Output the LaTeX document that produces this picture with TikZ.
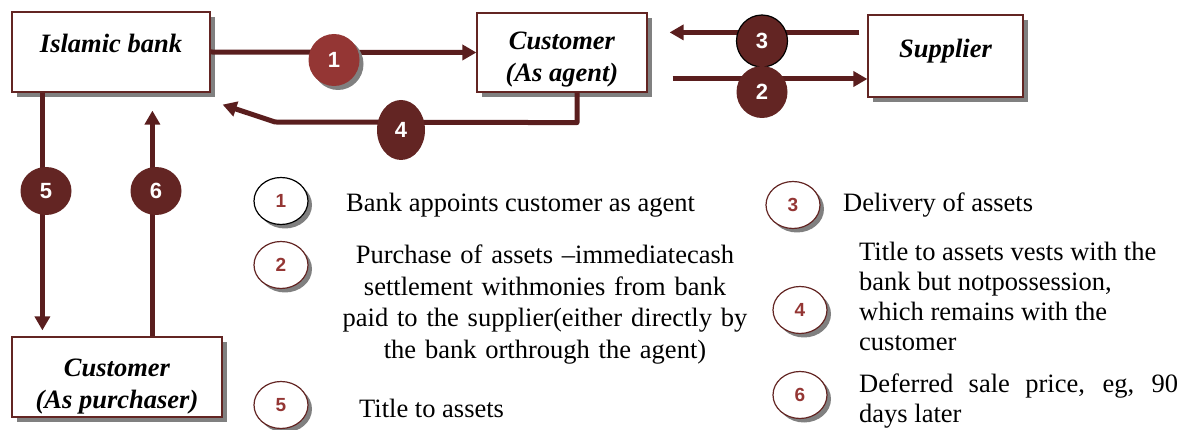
\documentclass[tikz,border=0pt]{standalone}
\usepackage{fontspec}
\setmainfont{Liberation Serif}
\newfontfamily\numfont{Liberation Sans}
\usetikzlibrary{arrows.meta,shapes.geometric,shadows,calc}

\definecolor{flowred}{RGB}{90,30,30}
\definecolor{discred}{RGB}{148,54,52}
\definecolor{darkdisc}{RGB}{99,37,35}
\definecolor{shadowgray}{RGB}{128,128,128}

\tikzset{
  party/.style={draw=darkdisc, line width=1.2pt, fill=white, inner sep=0pt,
    font=\fontsize{26.5}{32}\selectfont\bfseries\itshape, align=center,
    drop shadow={shadow xshift=5pt, shadow yshift=-5pt, fill=shadowgray, opacity=1}},
  flow/.style={draw=flowred, line width=5pt, -{Triangle[length=14pt,width=15pt]}},
  stepdisc/.style={ellipse, fill=darkdisc, inner sep=0pt, text=white,
    font=\numfont\fontsize{22}{22}\selectfont\bfseries,
    minimum width=51pt, minimum height=52pt},
  keydisc/.style={ellipse, draw=darkdisc, line width=1.2pt, fill=white, inner sep=0pt,
    text=discred, font=\numfont\fontsize{19}{19}\selectfont\bfseries,
    minimum width=54pt, minimum height=47pt,
    drop shadow={shadow xshift=4pt, shadow yshift=-4pt, fill=shadowgray, opacity=1}},
  note/.style={font=\fontsize{26.5}{31}\selectfont, inner sep=0pt}
}

\begin{document}
\begin{tikzpicture}[x=1pt, y=-1pt]
  \useasboundingbox (0,0) rectangle (1197,430);

  % parties
  \node[party, minimum width=198pt, minimum height=80pt] (bank) at (111,52) {\raisebox{17pt}{Islamic bank}};
  \node[party, minimum width=170pt, minimum height=79pt] (agent) at (562,52.5) {\rule{0pt}{32pt}Customer\\(As agent)};
  \node[party, minimum width=155pt, minimum height=82pt] (supplier) at (945.5,56) {\raisebox{16pt}{Supplier}};
  \node[party, minimum width=210pt, minimum height=80pt] (buyer) at (117,377) {\rule{0pt}{36pt}Customer\\(As purchaser)};

  % flows
  \coordinate (s3) at ($(supplier.north west)+(-8,18)$);
  \coordinate (h3) at ($(agent.north east)+(22,20)$);
  \coordinate (t2) at ($(agent.east)+(25,26.5)$);
  \coordinate (t4) at ($(agent.south)+(15,0)$);
  \coordinate (k4) at (275,122);
  \coordinate (h4) at ($(bank.south east)+(12,12)$);
  \draw[flow] (bank.east) -- (agent.west);
  \draw[flow] (s3) -- (h3);
  \draw[flow] (t2) -- (t2 -| supplier.west);
  \draw[flow, line join=round] (t4) -- ++(0,30) -- (k4) -- (h4);
  \draw[flow] ([xshift=31pt]bank.south west) -- ([xshift=31pt,yshift=6pt]buyer.north west);
  \draw[flow] ([xshift=141pt]buyer.north west) -- ([xshift=141pt,yshift=-18pt]bank.south west);

  % step discs
  \node[stepdisc, fill=discred,
    drop shadow={shadow xshift=4pt, shadow yshift=-4pt, fill=shadowgray, opacity=1}] (d1) at (334,60) {1};
  \node[stepdisc, draw=black, line width=1.2pt] (d3) at (762,41) {3};
  \node[stepdisc] (d2) at (762,92) {2};
  \node[stepdisc, minimum width=48pt, minimum height=60pt] (d4) at (401,130) {4};
  \node[stepdisc, minimum height=48pt] (d5) at (46,191) {5};
  \node[stepdisc, minimum height=48pt] (d6) at (156,191) {6};

  % key
  \node[keydisc, draw=black] (k1) at (281,201) {1};
  \node[keydisc] (k2) at (281,265) {2};
  \node[keydisc] (k5) at (281,405) {5};
  \node[keydisc] (k3) at (793,205) {3};
  \node[keydisc] (k4) at (800,310) {4};
  \node[keydisc] (k6) at (800,395) {6};

  \node[note, anchor=base west] (n1) at (346,212) {Bank appoints customer as agent};
  \node[note, anchor=north, text width=440pt, align=center, font=\fontsize{26.5}{31.5}\selectfont] (n2) at (545,245)
    {Purchase of assets –immediatecash\\settlement withmonies from bank\\paid to the supplier(either directly by\\the bank orthrough the agent)};
  \node[note, anchor=base west] (n5) at (359,417) {Title to assets};
  \node[note, anchor=base west] (n3) at (843,212) {Delivery of assets};
  \node[note, anchor=north west, align=left, font=\fontsize{26.5}{30}\selectfont] (n4) at (859,242)
    {Title to assets vests with the\\bank but notpossession,\\which remains with the\\customer};
  \node[note, anchor=north west, text width=319pt, align=justify, font=\fontsize{26.5}{30}\selectfont] (n6) at (859,374)
    {Deferred sale price, eg, 90 days later};
\end{tikzpicture}
\end{document}
